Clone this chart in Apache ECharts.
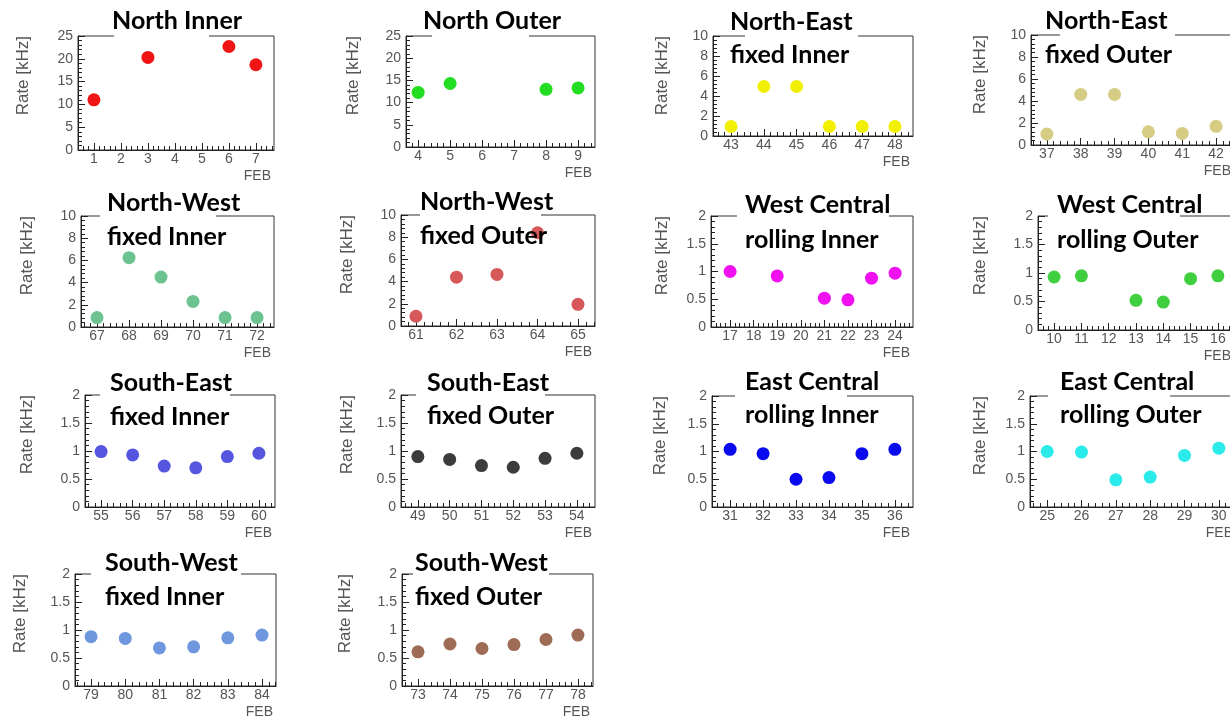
<!DOCTYPE html>
<html><head><meta charset="utf-8">
<script src="https://cdn.jsdelivr.net/npm/echarts@6/dist/echarts.min.js"></script>
<style>html,body{margin:0;padding:0;background:#fff}#c{width:1230px;height:721px}</style>
</head><body><div id="c"></div>
<script>
// ---------- data (FEB numbers, rates in kHz, x tick labels) ----------
const northInnerFEB = [1, 3, 6, 7];
const northInnerRate = [11.0, 20.3, 22.7, 18.7];
const northInnerTicks = [1, 2, 3, 4, 5, 6, 7];

const northOuterFEB = [4, 5, 8, 9];
const northOuterRate = [12.3, 14.3, 13.0, 13.3];
const northOuterTicks = [4, 5, 6, 7, 8, 9];

const neFixedInnerFEB = [43, 44, 45, 46, 47, 48];
const neFixedInnerRate = [0.95, 4.95, 4.95, 0.95, 0.95, 0.95];

const neFixedOuterFEB = [37, 38, 39, 40, 41, 42];
const neFixedOuterRate = [1.0, 4.6, 4.6, 1.2, 1.05, 1.7];

const nwFixedInnerFEB = [67, 68, 69, 70, 71, 72];
const nwFixedInnerRate = [0.85, 6.25, 4.5, 2.3, 0.85, 0.85];

const nwFixedOuterFEB = [61, 62, 63, 64, 65];
const nwFixedOuterRate = [0.88, 4.4, 4.65, 8.4, 1.95];

const wcRollingInnerFEB = [17, 19, 21, 22, 23, 24];
const wcRollingInnerRate = [1.0, 0.92, 0.52, 0.49, 0.88, 0.97];
const wcRollingInnerTicks = [17, 18, 19, 20, 21, 22, 23, 24];

const wcRollingOuterFEB = [10, 11, 13, 14, 15, 16];
const wcRollingOuterRate = [0.93, 0.95, 0.52, 0.49, 0.90, 0.95];
const wcRollingOuterTicks = [10, 11, 12, 13, 14, 15, 16];

const seFixedInnerFEB = [55, 56, 57, 58, 59, 60];
const seFixedInnerRate = [0.99, 0.93, 0.73, 0.70, 0.90, 0.96];

const seFixedOuterFEB = [49, 50, 51, 52, 53, 54];
const seFixedOuterRate = [0.90, 0.85, 0.74, 0.71, 0.87, 0.96];

const ecRollingInnerFEB = [31, 32, 33, 34, 35, 36];
const ecRollingInnerRate = [1.04, 0.96, 0.50, 0.53, 0.96, 1.04];

const ecRollingOuterFEB = [25, 26, 27, 28, 29, 30];
const ecRollingOuterRate = [1.0, 0.99, 0.49, 0.54, 0.93, 1.06];

const swFixedInnerFEB = [79, 80, 81, 82, 83, 84];
const swFixedInnerRate = [0.88, 0.85, 0.68, 0.70, 0.86, 0.91];

const swFixedOuterFEB = [73, 74, 75, 76, 77, 78];
const swFixedOuterRate = [0.61, 0.75, 0.67, 0.74, 0.83, 0.91];

const yAxisTitle = 'Rate [kHz]';
const xAxisTitle = 'FEB';

// ---------- panels (data refs + layout/style) ----------
const panels = [
  {title:['North Inner'], feb:northInnerFEB, rate:northInnerRate, ticks:northInnerTicks, ymax:25, yint:5, color:'#f01414',
   box:[78,36,274,150], xr:[0.41,7.67], tx:112, ty:[21], gap:[114,209], nx:23},
  {title:['North Outer'], feb:northOuterFEB, rate:northOuterRate, ticks:northOuterTicks, ymax:25, yint:5, color:'#22dd22',
   box:[406,36,595,147], xr:[3.62,9.53], tx:423, ty:[21], gap:[432,529], nx:353},
  {title:['North-East','fixed Inner'], feb:neFixedInnerFEB, rate:neFixedInnerRate, ticks:neFixedInnerFEB, ymax:10, yint:2, color:'#f0f000',
   box:[713,36,913,136], xr:[42.45,48.55], tx:730, ty:[22,55], gap:[745,858], nx:662},
  {title:['North-East','fixed Outer'], feb:neFixedOuterFEB, rate:neFixedOuterRate, ticks:neFixedOuterFEB, ymax:10, yint:2, color:'#d6cc84',
   box:[1031,35,1234,145], xr:[36.53,42.53], tx:1045, ty:[21,55], gap:[1060,1175], nx:980},

  {title:['North-West','fixed Inner'], feb:nwFixedInnerFEB, rate:nwFixedInnerRate, ticks:nwFixedInnerFEB, ymax:10, yint:2, color:'#6cc38f',
   box:[81,216,274,327], xr:[66.5,72.53], tx:107, ty:[203,237], gap:[100,216], nx:27},
  {title:['North-West','fixed Outer'], feb:nwFixedOuterFEB, rate:nwFixedOuterRate, ticks:nwFixedOuterFEB, ymax:10, yint:2, color:'#d65858',
   box:[401,215,595,326], xr:[60.63,65.42], tx:420, ty:[202,236], gap:[420,541], nx:347},
  {title:['West Central','rolling Inner'], feb:wcRollingInnerFEB, rate:wcRollingInnerRate, ticks:wcRollingInnerTicks, ymax:2, yint:0.5, color:'#f010f0',
   box:[711,216,913,327], xr:[16.19,24.76], tx:745, ty:[205,240], gap:[737,889], nx:662},
  {title:['West Central','rolling Outer'], feb:wcRollingOuterFEB, rate:wcRollingOuterRate, ticks:wcRollingOuterTicks, ymax:2, yint:0.5, color:'#3fcf3f',
   box:[1038,216,1234,330], xr:[9.41,16.59], tx:1057, ty:[205,240], gap:[1048,1180], nx:980},

  {title:['South-East','fixed Inner'], feb:seFixedInnerFEB, rate:seFixedInnerRate, ticks:seFixedInnerFEB, ymax:2, yint:0.5, color:'#5555e0',
   box:[85,395,275,507], xr:[54.49,60.51], tx:110, ty:[383,417], gap:[100,230], nx:27},
  {title:['South-East','fixed Outer'], feb:seFixedOuterFEB, rate:seFixedOuterRate, ticks:seFixedOuterFEB, ymax:2, yint:0.5, color:'#3c3c3c',
   box:[401,395,595,507], xr:[48.47,54.57], tx:427, ty:[383,416], gap:[416,545], nx:347},
  {title:['East Central','rolling Inner'], feb:ecRollingInnerFEB, rate:ecRollingInnerRate, ticks:ecRollingInnerFEB, ymax:2, yint:0.5, color:'#0a0aee',
   box:[712,396,913,507], xr:[30.45,36.55], tx:745, ty:[382,415], gap:[735,847], nx:660},
  {title:['East Central','rolling Outer'], feb:ecRollingOuterFEB, rate:ecRollingOuterRate, ticks:ecRollingOuterFEB, ymax:2, yint:0.5, color:'#2aeaea',
   box:[1030,396,1236,507], xr:[24.5,30.5], tx:1060, ty:[382,415], gap:[1048,1170], nx:980},

  {title:['South-West','fixed Inner'], feb:swFixedInnerFEB, rate:swFixedInnerRate, ticks:swFixedInnerFEB, ymax:2, yint:0.5, color:'#6f97dd',
   box:[75,574,276,686], xr:[78.53,84.41], tx:105, ty:[563,597], gap:[91,241], nx:20},
  {title:['South-West','fixed Outer'], feb:swFixedOuterFEB, rate:swFixedOuterRate, ticks:swFixedOuterFEB, ymax:2, yint:0.5, color:'#9e6c55',
   box:[402,574,593,686], xr:[72.5,78.47], tx:415, ty:[563,597], gap:[413,549], nx:345}
];

const AX = '#222';
const LBL = '#555';
const LFONT = 'Liberation Sans, Arial, sans-serif';

const grid = [], xAxis = [], yAxis = [], series = [], graphic = [];

panels.forEach((p, i) => {
  const [L, T, R, B] = p.box;
  grid.push({left:L, top:T, width:R-L, height:B-T, show:true, borderColor:'#333', borderWidth:1,
             backgroundColor:'#fff', containLabel:false, outerBoundsMode:'none'});
  const minor = [];
  for (let k = Math.ceil(p.xr[0]*5); k <= Math.floor(p.xr[1]*5); k++) minor.push(k/5);
  xAxis.push({gridIndex:i, type:'value', min:p.xr[0], max:p.xr[1], position:'bottom',
    axisLine:{show:true, onZero:false, lineStyle:{color:AX, width:1}},
    axisTick:{show:true, inside:true, length:7, customValues:p.ticks, lineStyle:{color:AX, width:1}},
    axisLabel:{customValues:p.ticks, color:LBL, fontSize:14, fontFamily:LFONT, margin:2, hideOverlap:false},
    splitLine:{show:false}});
  xAxis.push({gridIndex:i, type:'value', min:p.xr[0], max:p.xr[1], position:'bottom',
    axisLine:{show:false, onZero:false},
    axisTick:{show:true, inside:true, length:4, customValues:minor, lineStyle:{color:AX, width:1}},
    axisLabel:{show:false}, splitLine:{show:false}});
  yAxis.push({gridIndex:i, type:'value', min:0, max:p.ymax, interval:p.yint,
    axisLine:{show:true, onZero:false, lineStyle:{color:AX, width:1}},
    axisTick:{show:true, inside:true, length:7, lineStyle:{color:AX, width:1}},
    minorTick:{show:true, splitNumber:5, length:4, lineStyle:{color:AX, width:1}},
    axisLabel:{color:LBL, fontSize:14, fontFamily:LFONT, margin:5, showMinLabel:true, showMaxLabel:true, hideOverlap:false},
    splitLine:{show:false}});
  series.push({type:'scatter', xAxisIndex:2*i, yAxisIndex:i, symbol:'circle', symbolSize:13, z:3,
    itemStyle:{color:p.color, opacity:1},
    data:p.feb.map((f, k) => [f, p.rate[k]])});

  graphic.push({type:'rect', z:5, shape:{x:p.gap[0], y:T-3, width:p.gap[1]-p.gap[0], height:6},
    style:{fill:'#fff'}});
  p.title.forEach((t, j) => {
    graphic.push({type:'text', z:10, x:p.tx, y:p.ty[j],
      style:{text:t, font:'bold 25px Lato, sans-serif', fill:'#000',
             align:'left', verticalAlign:'middle', textAlign:'left', textVerticalAlign:'middle'}});
  });
  graphic.push({type:'text', z:10, x:p.nx, y:T, rotation:Math.PI/2,
    style:{text:yAxisTitle, font:'17px ' + LFONT, fill:LBL,
           align:'right', verticalAlign:'middle', textAlign:'right', textVerticalAlign:'middle'}});
  graphic.push({type:'text', z:10, x:R-3, y:B+26,
    style:{text:xAxisTitle, font:'14px ' + LFONT, fill:LBL,
           align:'right', verticalAlign:'middle', textAlign:'right', textVerticalAlign:'middle'}});
});

const chart = echarts.init(document.getElementById('c'), null, {renderer:'canvas'});
chart.setOption({animation:false, backgroundColor:'#fff', grid, xAxis, yAxis, series, graphic});
</script>
</body></html>
